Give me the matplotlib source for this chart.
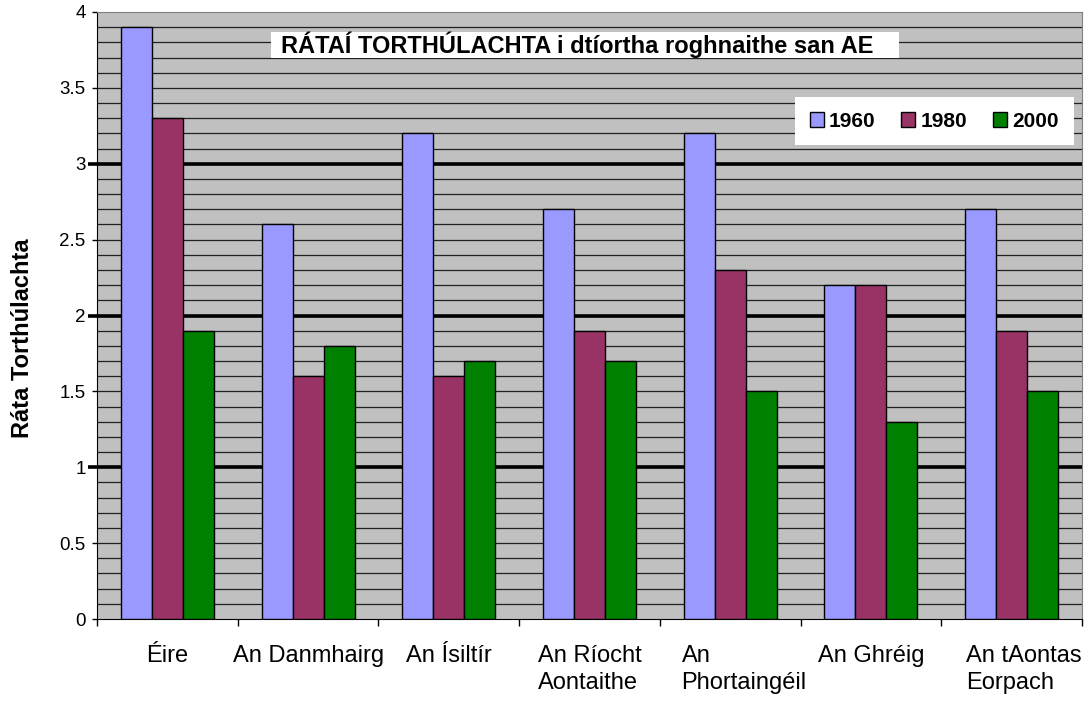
import matplotlib
matplotlib.use('Agg')
import matplotlib.pyplot as plt
from matplotlib.patches import Rectangle
from matplotlib.transforms import ScaledTranslation
import numpy as np

plt.rcParams['font.family'] = ['Liberation Sans', 'DejaVu Sans']

countries = ['Éire', 'An Danmhairg', 'An Ísiltír', 'An Ríocht\nAontaithe',
             'An\nPhortaingéil', 'An Ghréig', 'An tAontas\nEorpach']
years = ['1960', '1980', '2000']
rate_1960 = [3.9, 2.6, 3.2, 2.7, 3.2, 2.2, 2.7]
rate_1980 = [3.3, 1.6, 1.6, 1.9, 2.3, 2.2, 1.9]
rate_2000 = [1.9, 1.8, 1.7, 1.7, 1.5, 1.3, 1.5]
colours = ['#9999FF', '#993366', '#008000']

fig = plt.figure(figsize=(10.87, 7.02), dpi=100)
ax = fig.add_axes([97/1087, 1 - 619/702, 985/1087, 607/702])
ax.set_facecolor('#C0C0C0')

x = np.arange(len(countries))
w = 0.22
for k, (vals, lab) in enumerate(zip([rate_1960, rate_1980, rate_2000], years)):
    ax.bar(x + (k - 1) * w, vals, w, color=colours[k], edgecolor='black',
           linewidth=1, label=lab, zorder=3)

ax.set_xlim(-0.5, len(countries) - 0.5)
ax.set_ylim(0, 4)

# gridlines: thin every 0.1, thick at whole numbers
for g in np.arange(0.1, 4.0, 0.1):
    ax.axhline(g, color='#202020', lw=0.9, zorder=1)
for g in [1, 2, 3]:
    ax.axhline(g, color='black', lw=2.6, zorder=2)

ax.set_yticks(np.arange(0, 4.01, 0.5))
ax.set_yticklabels(['0', '0.5', '1', '1.5', '2', '2.5', '3', '3.5', '4'])
ax.tick_params(axis='y', length=3.6, width=1, pad=4.5, labelsize=13.5)
for t in ax.yaxis.get_major_ticks():
    if t.get_loc() in (1, 2, 3):
        t.tick1line.set_markeredgewidth(2.6)
        t.tick1line.set_markersize(6.5)

ax.set_xticks(x)
ax.set_xticklabels(countries, fontsize=17, linespacing=1.3)
ax.tick_params(axis='x', length=0, pad=19)
ax.set_xticks(np.arange(-0.5, len(countries), 1), minor=True)
ax.tick_params(axis='x', which='minor', length=5, width=1)
# the two-line labels sit a little right of centre in the original
shift = {'An\nPhortaingéil': 10, 'An tAontas\nEorpach': 9}
for lab in ax.get_xticklabels():
    lab.set_multialignment('left')
    dx = shift.get(lab.get_text(), 0)
    if dx:
        lab.set_transform(lab.get_transform() +
                          ScaledTranslation(dx / 72, 0, fig.dpi_scale_trans))

for s in ['top', 'right']:
    ax.spines[s].set_color('#808080')
ax.spines['left'].set_color('black')
ax.spines['bottom'].set_color('black')

fig.text(23/1087, 1 - 338/702, 'Ráta Torthúlachta', rotation=90, ha='center',
         va='center', fontsize=17, fontweight='bold')

# title box
ax.add_patch(Rectangle((174/985, (619 - 58)/607), 628/985, 26/607,
                       transform=ax.transAxes, facecolor='white',
                       edgecolor='none', zorder=5))
ax.text(0.487, 0.9456, 'RÁTAÍ TORTHÚLACHTA i dtíortha roghnaithe san AE',
        transform=ax.transAxes, ha='center', va='center', fontsize=17,
        fontweight='bold', zorder=6)

leg = ax.legend(loc='center', bbox_to_anchor=(0.850, 0.820), ncol=3,
                prop={'weight': 'bold', 'size': 15}, frameon=True,
                fancybox=False, handlelength=0.67, handleheight=0.67,
                handletextpad=0.25, columnspacing=1.25, borderpad=0.7,
                borderaxespad=0)
leg.get_frame().set_facecolor('white')
leg.get_frame().set_edgecolor('none')
leg.get_frame().set_alpha(1)
leg.set_zorder(5)

fig.savefig('out.png', dpi=100)
